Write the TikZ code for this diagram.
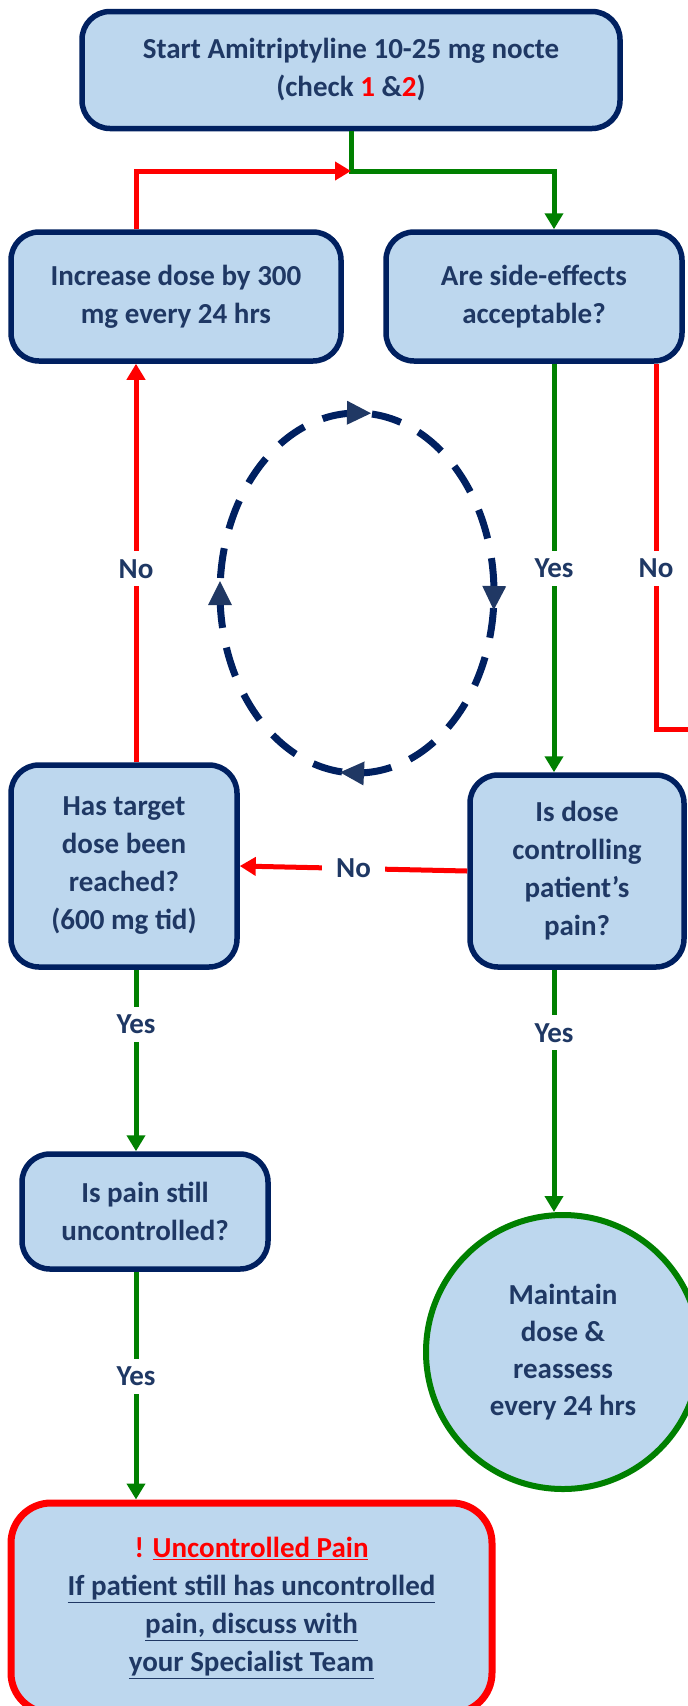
\documentclass[tikz,border=0pt]{standalone}
\usepackage{fontspec}
\setmainfont{Carlito}
\usepackage{xcolor}
\usepackage{tikz}
\usetikzlibrary{arrows.meta,decorations.markings}
\definecolor{fcnavy}{HTML}{002060}
\definecolor{fctext}{HTML}{1F3864}
\definecolor{fcarrow}{HTML}{203864}
\definecolor{fcfill}{HTML}{BDD7EE}
\definecolor{fcgreen}{HTML}{008000}
\definecolor{fcred}{HTML}{FF0000}
\newcommand{\cyctip}{\fill[fcarrow] (12,0) -- (-12,12) -- (-12,-12) -- cycle;}

\begin{document}
\begin{tikzpicture}[x=1pt, y=-1pt,
  font=\fontsize{29}{38}\selectfont\bfseries,
  box/.style={draw=fcnavy, line width=5.5pt, fill=fcfill, rounded corners=28pt,
              align=center, text=fctext, inner sep=0pt},
  alertbox/.style={box, draw=fcred, line width=7pt, rounded corners=40pt},
  keepcirc/.style={circle, draw=fcgreen, line width=6pt, fill=fcfill,
                   align=center, text=fctext, inner sep=0pt},
  yesln/.style={draw=fcgreen, line width=5pt},
  noln/.style={draw=fcred, line width=5pt},
  lbl/.style={fill=white, text=fctext, inner xsep=14pt, inner ysep=8pt},
  >={Triangle[length=16pt, width=18pt]}]
\useasboundingbox (0,0) rectangle (688,1706);

% ---------------- boxes ----------------
\node[box, minimum width=538pt, minimum height=117pt] (start) at (351,70)
  {Start Amitriptyline 10-25 mg nocte\\(check \textcolor{fcred}{1} \&\textcolor{fcred}{2})};
\node[box, minimum width=330pt, minimum height=129pt] (incr) at (176,296.5)
  {Increase dose by 300\\mg every 24 hrs};
\node[box, minimum width=296pt, minimum height=129pt] (side) at (534,296.5)
  {Are side-effects\\acceptable?};
\node[box, minimum width=226pt, minimum height=202pt] (target) at (124,866)
  {Has target\\dose been\\reached?\\(600 mg tid)};
\node[box, minimum width=214pt, minimum height=192pt] (ctrl) at (577,871)
  {Is dose\\controlling\\patient’s\\pain?};
\node[box, minimum width=246pt, minimum height=115pt] (still) at (145,1211.5)
  {Is pain still\\uncontrolled?};
\node[alertbox, minimum width=481pt, minimum height=210pt] (alert) at (251.5,1608)
  {{\color{fcred}! \underline{Uncontrolled Pain}}\\
   \underline{If patient still has uncontrolled}\\
   \underline{pain, discuss with}\\
   \underline{your Specialist Team}};
\node[keepcirc, minimum size=274pt, font=\fontsize{29}{37}\selectfont\bfseries] (keep) at (563,1352)
  {Maintain\\dose \&\\reassess\\every 24 hrs};

% ---------------- helper points ----------------
\coordinate (xl) at (136,0);
\coordinate (xr) at (554,0);
\coordinate (xn) at (656,0);
\coordinate (jn) at (351,171);
\coordinate (redend) at (694,729);
\coordinate (cyc) at (357,593);

% ---------------- connectors ----------------
\draw[yesln, ->] (start.south) -- (jn) -| (side.north -| xr);
\draw[noln, ->] (incr.north -| xl) |- (jn);
\draw[yesln, ->] (side.south -| xr) -- node[lbl, pos=0.5] (yes1) {Yes} (ctrl.north -| xr);
\draw[noln] (side.south -| xn) -- node[lbl, pos=0.56] (no1) {No} (xn |- redend) -- (redend);
\draw[noln, ->] (ctrl.west) -- node[lbl] (no2) {No} (target.east);
\draw[noln, ->] (target.north -| xl) -- node[lbl, pos=0.485] (no3) {No} (incr.south -| xl);
\draw[yesln, ->] (target.south -| xl) -- node[lbl, pos=0.3] (yes2) {Yes} (still.north -| xl);
\draw[yesln, ->] (still.south -| xl) -- node[lbl, pos=0.46] (yes3) {Yes} (alert.north -| xl);
\draw[yesln, ->] (ctrl.south -| xr) -- node[lbl, pos=0.26] (yes4) {Yes} (keep.north -| xr);

% dashed review cycle
\draw[fcnavy, line width=7pt, dash pattern=on 30pt off 20.03pt, dash phase=35pt,
  postaction={decorate}, decoration={markings,
    mark=at position 0.005 with {\cyctip},
    mark=at position 0.255 with {\cyctip},
    mark=at position 0.5 with {\cyctip},
    mark=at position 0.752 with {\cyctip}}]
  (cyc) ellipse [x radius=137, y radius=180];
\end{tikzpicture}
\end{document}
